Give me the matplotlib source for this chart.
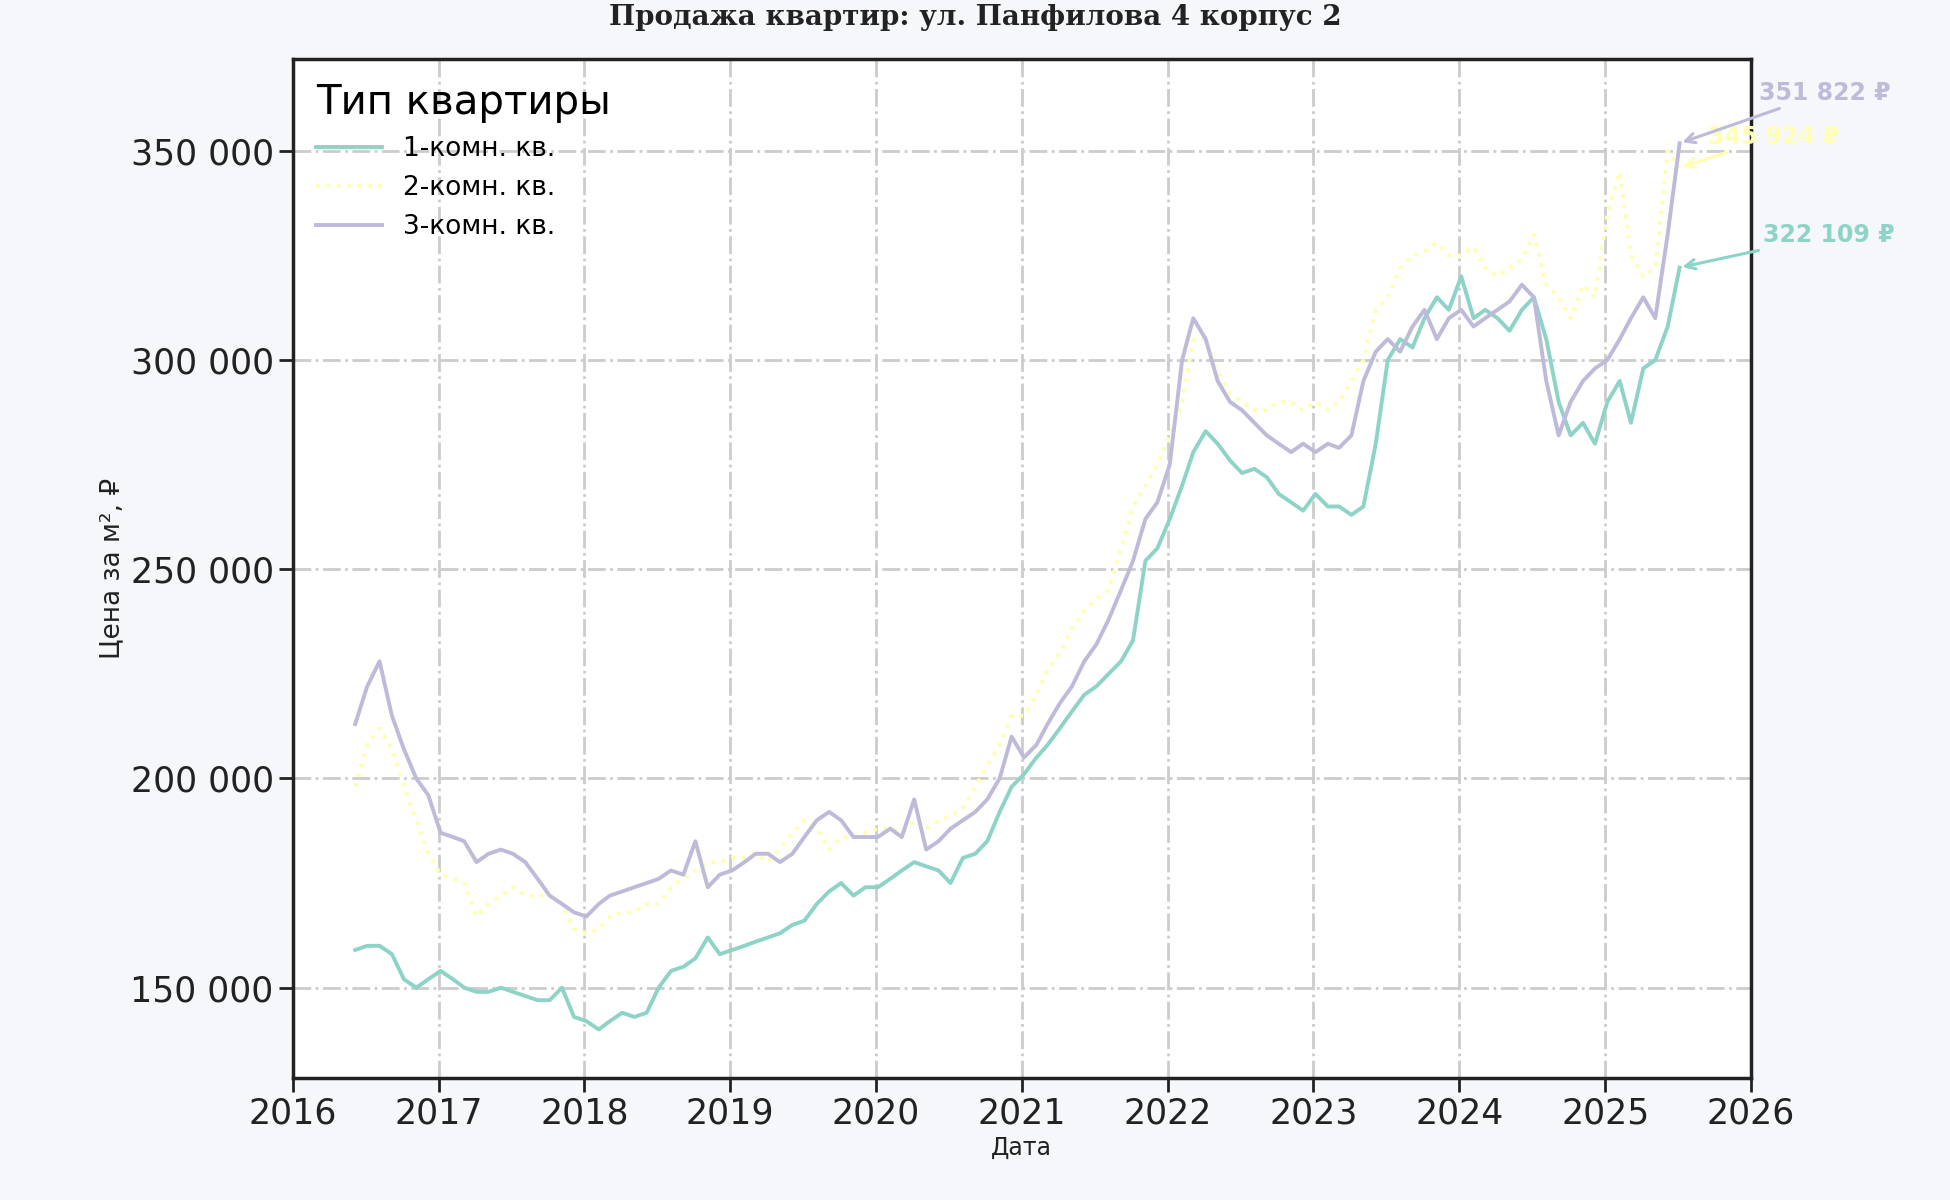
import matplotlib
matplotlib.use("Agg")
import matplotlib.pyplot as plt
import matplotlib.dates as mdates
import pandas as pd
import numpy as np

dates = pd.date_range("2016-06-01", periods=110, freq="MS") + pd.Timedelta(days=5)

one_room = [159,160,160,158,152,150,152,
    154,152,150,149,149,150,149,148,147,147,150,143,
    142,140,142,144,143,144,150,154,155,157,162,158,
    159,160,161,162,163,165,166,170,173,175,172,174,
    174,176,178,180,179,178,175,181,182,185,192,198,
    201,205,208,212,216,220,222,225,228,233,252,255,
    262,270,278,283,280,276,273,274,272,268,266,264,
    268,265,265,263,265,280,300,305,303,310,315,312,
    320,310,312,310,307,312,315,305,290,282,285,280,
    290,295,285,298,300,308,322.109]
two_room = [198,208,212,207,198,190,182,
    177,176,175,167,170,172,174,172,172,172,170,164,
    163,164,167,168,168,170,170,174,176,178,180,180,
    181,181,182,180,183,187,190,188,183,186,186,187,
    188,188,187,190,188,190,191,193,198,203,208,215,
    215,220,226,230,236,240,243,245,255,265,270,275,
    282,290,305,305,297,292,290,288,288,290,290,288,
    290,288,290,295,300,312,315,322,325,326,328,325,
    325,327,322,320,322,324,330,318,315,310,318,315,
    335,345,325,320,322,350,345.924]
three_room = [213,222,228,215,207,200,196,
    187,186,185,180,182,183,182,180,176,172,170,168,
    167,170,172,173,174,175,176,178,177,185,174,177,
    178,180,182,182,180,182,186,190,192,190,186,186,
    186,188,186,195,183,185,188,190,192,195,200,210,
    205,208,213,218,222,228,232,238,245,252,262,266,
    275,300,310,305,295,290,288,285,282,280,278,280,
    278,280,279,282,295,302,305,302,308,312,305,310,
    312,308,310,312,314,318,315,295,282,290,295,298,
    300,305,310,315,310,330,351.822]
labels = ["1-комн. кв.", "2-комн. кв.", "3-комн. кв."]
colors = ["#8dd3c7", "#ffffb3", "#bebada"]
styles = ["-", ":", "-"]
series = [one_room, two_room, three_room]

fig = plt.figure(figsize=(19.5, 12), dpi=100, facecolor="#f5f7fb")
ax = fig.add_axes([0.150, 0.102, 0.748, 0.849])
ax.set_facecolor("white")
for vals, lab, c, ls in zip(series, labels, colors, styles):
    ax.plot(dates, np.array(vals) * 1000, color=c, ls=ls, lw=2.8, label=lab)

ax.set_xlim(pd.Timestamp("2016-01-01"), pd.Timestamp("2026-01-01"))
ax.set_ylim(128500, 372000)
ax.xaxis.set_major_locator(mdates.YearLocator())
ax.xaxis.set_major_formatter(mdates.DateFormatter("%Y"))
ax.set_yticks([150000, 200000, 250000, 300000, 350000])
ax.yaxis.set_major_formatter(plt.FuncFormatter(lambda v, p: f"{int(v):,}".replace(",", " ")))
ax.tick_params(labelsize=25, length=10, width=2, colors="#222222")
ax.grid(True, ls="-.", color="#cccccc", lw=2)
for s in ax.spines.values():
    s.set_color("#222222"); s.set_linewidth(2.5)
ax.set_xlabel("Дата", fontsize=17, color="#222222")
ax.set_ylabel("Цена за м², ₽", fontsize=19, color="#222222")
fig.suptitle("Продажа квартир: ул. Панфилова 4 корпус 2", y=0.997, fontsize=20,
             fontweight="bold", family="DejaVu Serif", color="#222222")
leg = ax.legend(title="Тип квартиры", loc="upper left", frameon=False, fontsize=19,
                title_fontsize=29, handlelength=2.5)
leg._legend_box.align = "left"

last = dates[-1]
text_pos = [(pd.Timestamp("2026-02-01"), 327000), (pd.Timestamp("2025-09-15"), 350500),
            (pd.Timestamp("2026-01-20"), 361000)]
for vals, (tx, ty), c in zip(series, text_pos, colors):
    v = vals[-1]
    ax.annotate(f"{int(round(v*1000)):,} ₽".replace(",", " "), xy=(last, v * 1000),
                xytext=(tx, ty), color=c, fontsize=17, fontweight="bold",
                annotation_clip=False, va="bottom",
                arrowprops=dict(arrowstyle="->", color=c, lw=2.2))
fig.savefig("out.png", dpi=100, facecolor=fig.get_facecolor())
